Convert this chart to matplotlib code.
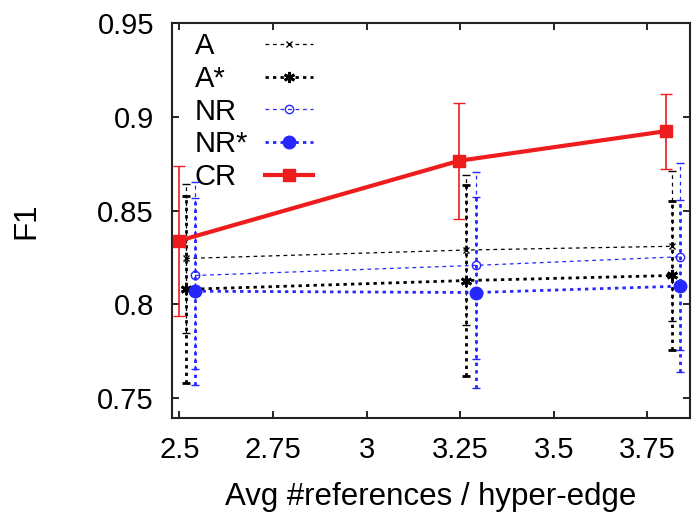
import matplotlib
matplotlib.use("Agg")
import matplotlib.pyplot as plt
from matplotlib.lines import Line2D

plt.rcParams['font.family'] = ['Liberation Sans', 'DejaVu Sans']

# x positions (gnuplot shifts each series a little to the right)
x_cr = [2.5, 3.248, 3.8]
x_a = [2.518, 3.266, 3.815]
x_nr = [2.542, 3.291, 3.837]

a_vals = [0.8245, 0.829, 0.831]
a_err = [0.040, 0.040, 0.040]
astar_vals = [0.808, 0.8127, 0.8154]
astar_err = [0.050, 0.051, 0.040]
nr_vals = [0.8154, 0.8208, 0.8254]
nr_err = [0.050, 0.050, 0.050]
nrstar_vals = [0.807, 0.8063, 0.8097]
nrstar_err = [0.050, 0.051, 0.046]
cr_vals = [0.834, 0.8767, 0.8925]
cr_err = [0.040, 0.031, 0.020]

blue = '#2626ff'
red = '#ee1c1c'

fig = plt.figure(figsize=(6.92, 5.14), dpi=100)
ax = fig.add_axes([0.2486, 0.1868, 0.7486, 0.769])

series = [
    ("A", x_a, a_vals, a_err, dict(color='black', ls=(0, (3, 3)), lw=0.9, marker='x', ms=5, mew=1)),
    ("A*", x_a, astar_vals, astar_err, dict(color='black', ls=(0, (1.2, 1.5)), lw=2, marker=(6, 2, 0), ms=8, mew=2)),
    ("NR", x_nr, nr_vals, nr_err, dict(color=blue, ls=(0, (3, 3)), lw=0.9, marker='o', ms=6, mfc='none', mew=1)),
    ("NR*", x_nr, nrstar_vals, nrstar_err, dict(color=blue, ls=(0, (1.2, 1.5)), lw=2, marker='o', ms=9)),
    ("CR", x_cr, cr_vals, cr_err, dict(color=red, ls='-', lw=3, marker='s', ms=8)),
]

handles = []
for i, (label, xs, ys, errs, st) in enumerate(series):
    is_cr = label == 'CR'
    eb = ax.errorbar(xs, ys, yerr=errs, capsize=4 if is_cr else 3,
                     elinewidth=1.2 if is_cr else st['lw'],
                     capthick=1, zorder=3 + i, **st)
    if not is_cr:
        eb[2][0].set_linestyle(st['ls'])
    handles.append(Line2D([], [], **st))

ax.set_xlim(2.4805, 3.864)
ax.set_ylim(0.7393, 0.9504)
ax.set_xticks([2.5, 2.75, 3, 3.25, 3.5, 3.75])
ax.set_xticklabels(['2.5', '2.75', '3', '3.25', '3.5', '3.75'])
ax.set_yticks([0.75, 0.8, 0.85, 0.9, 0.95])
ax.set_yticklabels(['0.75', '0.8', '0.85', '0.9', '0.95'])
ax.tick_params(direction='in', length=5, width=1.2, top=True, right=True,
               labelsize=21, pad=13)
for sp in ax.spines.values():
    sp.set_linewidth(1.5)
    sp.set_color('#222222')

ax.set_xlabel('Avg #references / hyper-edge', fontsize=22.5, labelpad=13)
ax.set_ylabel('F1', fontsize=22.5, labelpad=40)

# gnuplot-style key: names left-aligned, samples in a column to the right
labels = [s[0] for s in series]
blank = [Line2D([], [], ls='none') for _ in series]
key_kw = dict(loc='upper left', frameon=False, fontsize=21, labelspacing=0.16,
              borderpad=0, borderaxespad=0)
names = ax.legend(blank, labels, bbox_to_anchor=(0.044, 0.976),
                  handlelength=0, handletextpad=0, **key_kw)
ax.add_artist(names)
ax.legend(handles, [' '] * len(series), bbox_to_anchor=(0.18, 0.976),
          handlelength=1.65, handletextpad=0, **key_kw)

fig.savefig('out.png', dpi=100)
